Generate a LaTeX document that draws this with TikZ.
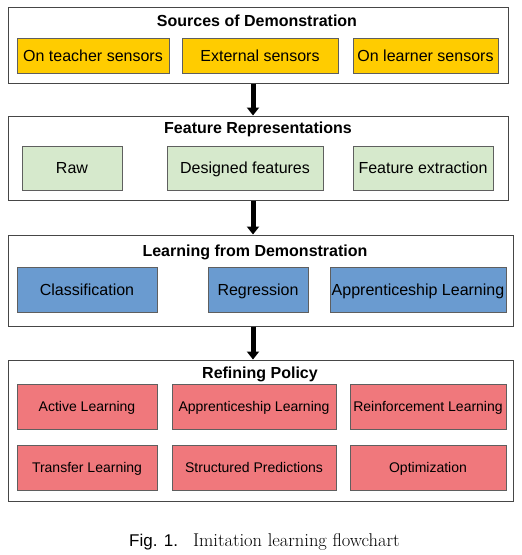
\documentclass[tikz,border=0pt]{standalone}
\usepackage{fontspec}
\setsansfont{Liberation Sans}
\usepackage{tikz}
\usetikzlibrary{arrows.meta,positioning}
\definecolor{srcyellow}{RGB}{255,204,0}
\definecolor{featgreen}{RGB}{214,233,204}
\definecolor{lfdblue}{RGB}{106,155,208}
\definecolor{refred}{RGB}{240,120,124}
\definecolor{stageborder}{RGB}{70,70,70}
\definecolor{itemborder}{RGB}{95,95,95}
\tikzstyle{stage} = [draw=stageborder, line width=1pt, inner sep=0pt]
\tikzstyle{stagetitle} = [font=\sffamily\bfseries\fontsize{16}{19}\selectfont, inner sep=0pt, text height=11.5pt, text depth=0pt]
\tikzstyle{item} = [draw=itemborder, line width=0.8pt, inner sep=0pt, font=\sffamily\fontsize{16}{19}\selectfont, text height=11.5pt, text depth=0pt]
\tikzstyle{smallitem} = [item, fill=refred, minimum height=45pt, font=\sffamily\fontsize{14}{17}\selectfont, text height=10pt]
\tikzstyle{flow} = [line width=5pt, -{Triangle[width=12pt,length=8pt]}]

\begin{document}
\begin{tikzpicture}[x=1pt,y=-1pt]
\useasboundingbox (0,0) rectangle (522,555);
% Stages
\node[stage, minimum width=500pt, minimum height=76pt] (src) at (258,45) {};
\node[stage, minimum width=500pt, minimum height=84pt] (feat) at (258,158) {};
\node[stage, minimum width=505pt, minimum height=91pt] (lfd) at (260.5,280.5) {};
\node[stage, minimum width=505pt, minimum height=141pt] (ref) at (260.5,430.5) {};

\node[stagetitle] (srctitle) at (257,21) {Sources of Demonstration};
\node[stagetitle] (feattitle) at (258,128) {Feature Representations};
\node[stagetitle] (lfdtitle) at (255,251) {Learning from Demonstration};
\node[stagetitle] (reftitle) at (260,373) {Refining Policy};

% Sources
\node[item, fill=srcyellow, minimum width=152pt, minimum height=35pt] (tsens) at (93,55.5) {On teacher sensors};
\node[item, fill=srcyellow, minimum width=156pt, minimum height=35pt] (esens) at (260,55.5) {External sensors};
\node[item, fill=srcyellow, minimum width=145pt, minimum height=35pt] (lsens) at (425.5,55.5) {On learner sensors};

% Features
\node[item, fill=featgreen, minimum width=100pt, minimum height=44pt] (raw) at (72,168) {Raw};
\node[item, fill=featgreen, minimum width=156pt, minimum height=44pt] (design) at (245,168) {Designed features};
\node[item, fill=featgreen, minimum width=140pt, minimum height=44pt] (fextr) at (423,168) {Feature extraction};

% Learning
\node[item, fill=lfdblue, minimum width=140pt, minimum height=45pt] (classif) at (87,289.5) {Classification};
\node[item, fill=lfdblue, minimum width=100pt, minimum height=45pt] (regr) at (258,289.5) {Regression};
\node[item, fill=lfdblue, minimum width=176pt, minimum height=45pt] (appr) at (418,289.5) {Apprenticeship Learning};

% Refining
\foreach \name/\x/\w/\y/\txt in {al/87/140/406.5/Active Learning,
    apl/254/164/406.5/Apprenticeship Learning,
    rl/428/156/406.5/Reinforcement Learning,
    tl/87/140/467.5/Transfer Learning,
    sp/254/164/467.5/Structured Predictions,
    opt/428/156/467.5/Optimization} {
    \node[smallitem, minimum width=\w pt] (\name) at (\x,\y) {\txt};
}

% Flow
\draw[flow] ([xshift=-5pt]src.south) -- ([xshift=-5pt]feat.north);
\draw[flow] ([xshift=-5pt]feat.south) -- ([xshift=-5pt]feat.south |- lfd.north);
\draw[flow] ([xshift=-7.5pt]lfd.south) -- ([xshift=-7.5pt]ref.north);

% Caption
\node (caption) at (264.5,542) {\sffamily\fontsize{17}{20}\selectfont Fig. 1.\hspace{15pt}\rmfamily\fontsize{18.5}{22}\selectfont Imitation learning flowchart};
\end{tikzpicture}
\end{document}
